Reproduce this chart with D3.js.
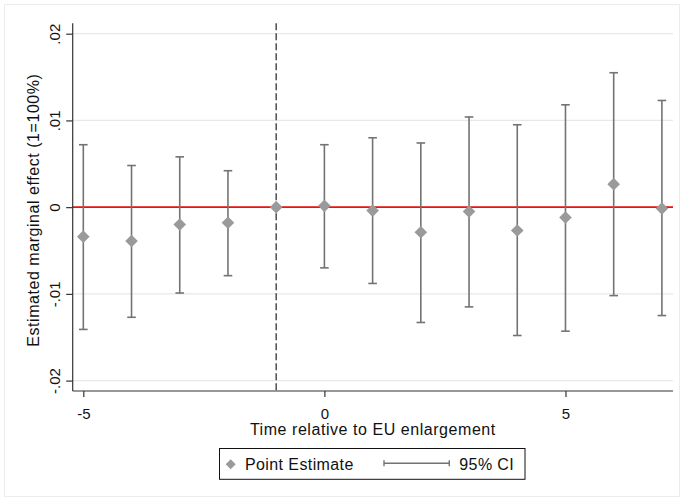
<!DOCTYPE html>
<html>
<head>
<meta charset="utf-8">
<script src="https://cdn.jsdelivr.net/npm/d3@7"></script>
<style>
  html, body { margin: 0; padding: 0; background: #fff; }
  svg { display: block; font-family: "Liberation Sans", Arial, Helvetica, sans-serif; }
</style>
</head>
<body>
<svg id="chart" width="684" height="501"></svg>
<script>
// ---- data ----
const periods   = [-5, -4, -3, -2, -1, 0, 1, 2, 3, 4, 5, 6, 7];
const estimates = [-0.0034, -0.0039, -0.0020, -0.0018, 0.0000, 0.00015, -0.0004, -0.0029, -0.0005, -0.0027, -0.0012, 0.00265, -0.00015];
const ciLower   = [-0.0141, -0.0127, -0.0099, -0.0079, null, -0.0070, -0.0088, -0.0133, -0.0115, -0.0148, -0.0143, -0.0102, -0.0125];
const ciUpper   = [0.0072, 0.0048, 0.0058, 0.0042, null, 0.0072, 0.0080, 0.0074, 0.0104, 0.0095, 0.0118, 0.0155, 0.0123];
const xTicks = [-5, 0, 5];
const xTickLabels = ["-5", "0", "5"];
const yTicks = [-0.02, -0.01, 0, 0.01, 0.02];
const yTickLabels = ["-.02", "-.01", "0", ".01", ".02"];
const eventPeriod = -1;
const xTitle = "Time relative to EU enlargement";
const yTitle = "Estimated marginal effect (1=100%)";
const legendLabels = ["Point Estimate", "95% CI"];

// ---- layout ----
const pLeft = 72.7, pRight = 673, pTop = 23.3, pBottom = 391;
const svg = d3.select("#chart");

const x = d3.scaleLinear().domain([-5.22, 7.23]).range([pLeft, pRight]);
const y = d3.scaleLinear().domain([-0.0212, 0.0212]).range([pBottom, pTop]);

// outer light frame
svg.append("rect").attr("x", 4.5).attr("y", 4.5).attr("width", 675).attr("height", 492)
  .attr("fill", "none").attr("stroke", "#ececec").attr("stroke-width", 1);

// gridlines
svg.append("g").selectAll("line").data(yTicks).join("line")
  .attr("x1", pLeft).attr("x2", pRight)
  .attr("y1", d => y(d)).attr("y2", d => y(d))
  .attr("stroke", "#e8e8e8").attr("stroke-width", 1.2);

// zero line (red)
svg.append("line")
  .attr("x1", pLeft).attr("x2", pRight)
  .attr("y1", y(0)).attr("y2", y(0))
  .attr("stroke", "#ee1111").attr("stroke-width", 1.6);

// event line (dashed)
svg.append("line")
  .attr("x1", x(eventPeriod)).attr("x2", x(eventPeriod))
  .attr("y1", pTop).attr("y2", pBottom)
  .attr("stroke", "#333").attr("stroke-width", 1.3)
  .attr("stroke-dasharray", "7,3");

// data rows
const rows = periods.map((p, i) => ({ p, est: estimates[i], lo: ciLower[i], hi: ciUpper[i] }));
const ciRows = rows.filter(d => d.lo !== null && d.hi !== null);

const ciColor = "#737373";
const ci = svg.append("g");
ci.selectAll("line.v").data(ciRows).join("line").attr("class", "v")
  .attr("x1", d => x(d.p)).attr("x2", d => x(d.p))
  .attr("y1", d => y(d.lo)).attr("y2", d => y(d.hi))
  .attr("stroke", ciColor).attr("stroke-width", 1.6);
ci.selectAll("line.cl").data(ciRows).join("line").attr("class", "cl")
  .attr("x1", d => x(d.p) - 4.3).attr("x2", d => x(d.p) + 4.3)
  .attr("y1", d => y(d.lo)).attr("y2", d => y(d.lo))
  .attr("stroke", ciColor).attr("stroke-width", 1.6);
ci.selectAll("line.ch").data(ciRows).join("line").attr("class", "ch")
  .attr("x1", d => x(d.p) - 4.3).attr("x2", d => x(d.p) + 4.3)
  .attr("y1", d => y(d.hi)).attr("y2", d => y(d.hi))
  .attr("stroke", ciColor).attr("stroke-width", 1.6);

// diamonds
const diamond = (r) => `M0,${-r}L${r},0L0,${r}L${-r},0Z`;
svg.append("g").selectAll("path").data(rows).join("path")
  .attr("d", diamond(6.3))
  .attr("transform", d => `translate(${x(d.p)},${y(d.est)})`)
  .attr("fill", "#9a9a9a");

// axes
const yAxis = d3.axisLeft(y).tickValues(yTicks)
  .tickFormat((d, i) => yTickLabels[i]).tickSize(6.5).tickSizeOuter(0);
const gy = svg.append("g").attr("transform", `translate(${pLeft},0)`).call(yAxis);
gy.select(".domain").attr("d", `M0,${pTop}V${pBottom}`).attr("stroke", "#333").attr("stroke-width", 1.2);
gy.selectAll(".tick line").attr("stroke", "#333").attr("stroke-width", 1.2);
gy.selectAll(".tick text")
  .attr("x", 0).attr("dy", 0).attr("y", 0)
  .attr("transform", "translate(-12.7,0) rotate(-90)")
  .attr("text-anchor", "middle")
  .attr("font-size", 15).attr("fill", "#111")
  .attr("font-family", "Liberation Sans, Arial, sans-serif");

const xAxis = d3.axisBottom(x).tickValues(xTicks)
  .tickFormat((d, i) => xTickLabels[i]).tickSize(6).tickSizeOuter(0);
const gx = svg.append("g").attr("transform", `translate(0,${pBottom})`).call(xAxis);
gx.select(".domain").attr("d", `M${pLeft},0H${pRight}`).attr("stroke", "#333").attr("stroke-width", 1.2);
gx.selectAll(".tick line").attr("stroke", "#333").attr("stroke-width", 1.2);
gx.selectAll(".tick text")
  .attr("y", 27.7).attr("dy", 0)
  .attr("font-size", 15).attr("fill", "#111")
  .attr("font-family", "Liberation Sans, Arial, sans-serif");

// axis titles
svg.append("text")
  .attr("x", (pLeft + pRight) / 2).attr("y", 435.3)
  .attr("text-anchor", "middle").attr("font-size", 16).attr("letter-spacing", 0.55)
  .attr("fill", "#111").text(xTitle);
svg.append("text")
  .attr("transform", `translate(38.5,${(pTop + pBottom) / 2 + 3}) rotate(-90)`)
  .attr("text-anchor", "middle").attr("font-size", 16).attr("letter-spacing", 0.55)
  .attr("fill", "#111").text(yTitle);

// legend
const lg = svg.append("g");
lg.append("rect").attr("x", 219.5).attr("y", 448.5).attr("width", 305.5).attr("height", 30.8)
  .attr("fill", "#fff").attr("stroke", "#111").attr("stroke-width", 1);
lg.append("path").attr("d", diamond(5)).attr("transform", "translate(230.7,464.3)").attr("fill", "#9a9a9a");
lg.append("text").attr("x", 245).attr("y", 470.3).attr("font-size", 16).attr("letter-spacing", 0.4)
  .attr("fill", "#111").text(legendLabels[0]);
lg.append("line").attr("x1", 384).attr("x2", 449.3).attr("y1", 463.3).attr("y2", 463.3)
  .attr("stroke", ciColor).attr("stroke-width", 1.4);
lg.append("line").attr("x1", 384).attr("x2", 384).attr("y1", 460.3).attr("y2", 466.3)
  .attr("stroke", ciColor).attr("stroke-width", 1.4);
lg.append("line").attr("x1", 449.3).attr("x2", 449.3).attr("y1", 460.3).attr("y2", 466.3)
  .attr("stroke", ciColor).attr("stroke-width", 1.4);
lg.append("text").attr("x", 459.3).attr("y", 470.3).attr("font-size", 16).attr("letter-spacing", 0.4)
  .attr("fill", "#111").text(legendLabels[1]);
</script>
</body>
</html>
